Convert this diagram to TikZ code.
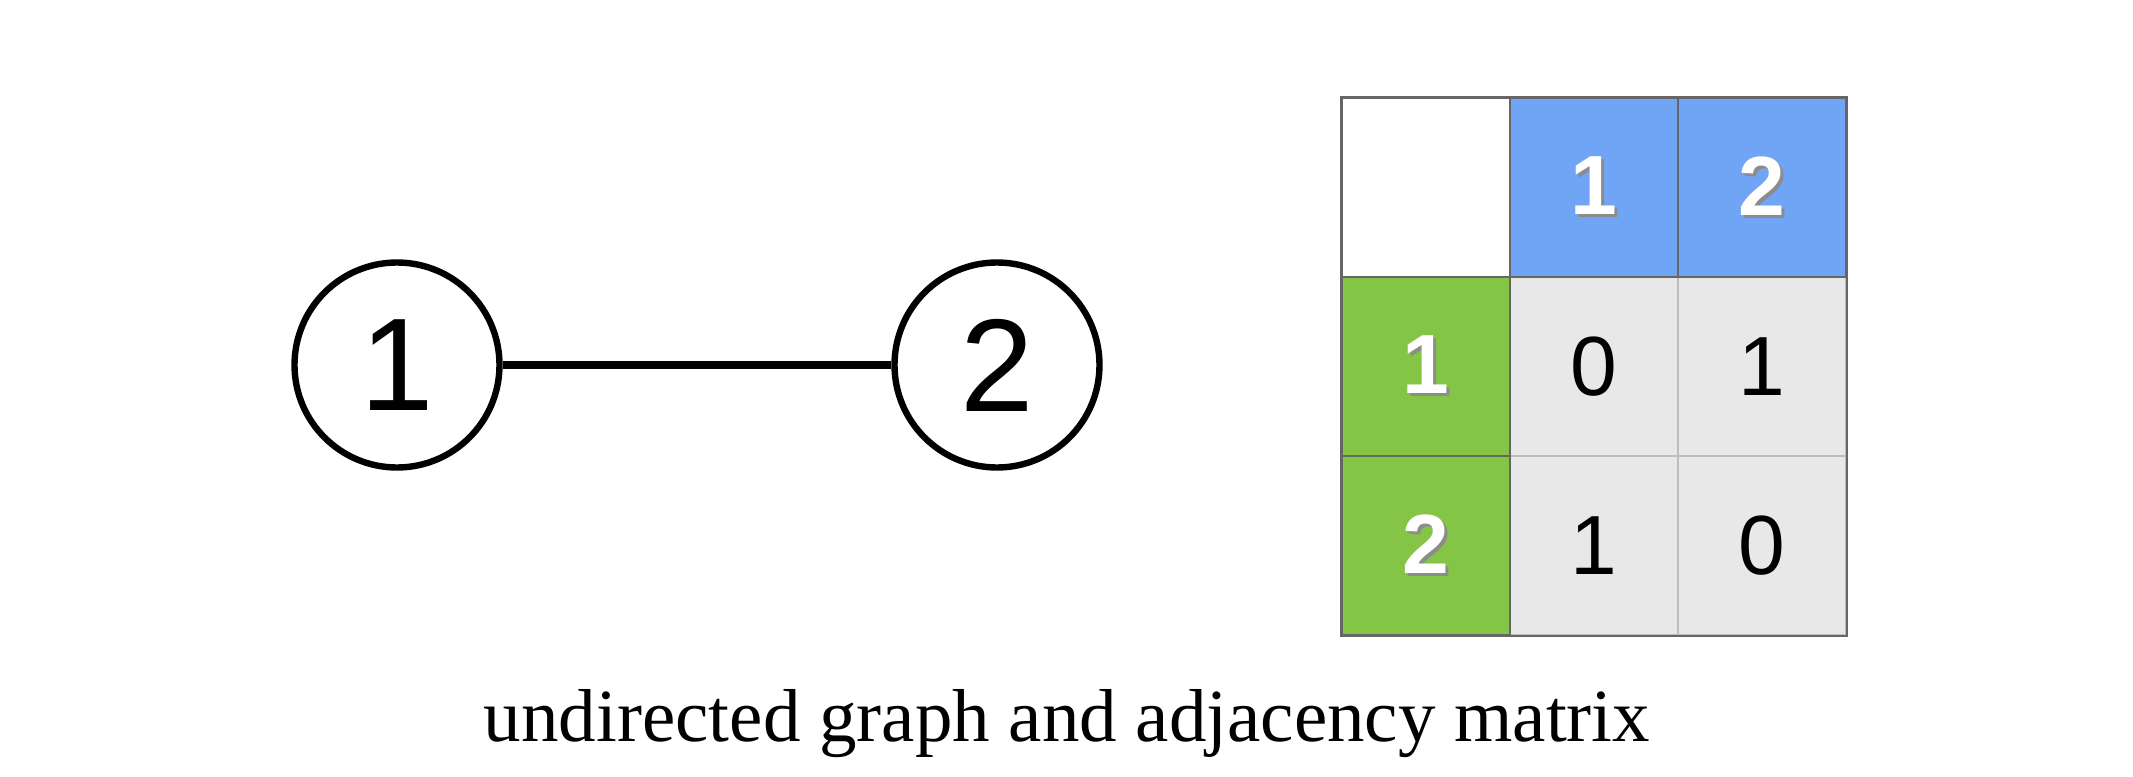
\documentclass[tikz,border=0pt]{standalone}
\usepackage{fontspec}
\setmainfont{Liberation Serif}
\newfontfamily\digitfont{Liberation Sans}
\usetikzlibrary{arrows}

\definecolor{headblue}{HTML}{70A5F5}
\definecolor{rowgreen}{HTML}{85C545}
\definecolor{cellgray}{HTML}{E8E8E8}
\definecolor{gridline}{HTML}{666666}
\definecolor{softline}{HTML}{BDBDBD}
\newcommand{\shadowdigit}[1]{\rlap{\kern1.5pt\raisebox{-1.5pt}{\color{black!45}#1}}{\color{white}#1}}

\begin{document}
\begin{tikzpicture}[x=0.5pt,y=-0.5pt,node distance=300pt,
                    main node/.style={circle,draw,line width=3.2pt,minimum size=102.5pt,
                      inner sep=0pt,font=\digitfont\fontsize{66}{66}\selectfont},
                    cell/.style={rectangle,minimum width=84pt,minimum height=89.5pt,
                      inner sep=0pt,line width=1pt},
                    head cell/.style={cell,draw=gridline,fill=headblue,
                      font=\digitfont\bfseries\fontsize{42}{42}\selectfont},
                    row cell/.style={cell,draw=gridline,fill=rowgreen,
                      font=\digitfont\bfseries\fontsize{42}{42}\selectfont},
                    value cell/.style={cell,draw=softline,fill=cellgray,
                      font=\digitfont\fontsize{42}{42}\selectfont}]
  \useasboundingbox (0,0) rectangle (2133,777);
  \node[main node] (1) at (397,365) {1};
  \node[main node] (2) [right of=1] {2};
  \path 
    (1) edge[line width=4.3pt] (2)
    ;
  % adjacency matrix
  \node[value cell] (v11) at (1593.5,366.5) {0};
  \node[value cell] (v12) [right of=v11,node distance=84pt] {1};
  \node[value cell] (v21) [below of=v11,node distance=89.5pt] {1};
  \node[value cell] (v22) [right of=v21,node distance=84pt] {0};
  \node[head cell] (h1) [above of=v11,node distance=89.5pt] {\shadowdigit{1}};
  \node[head cell] (h2) [above of=v12,node distance=89.5pt] {\shadowdigit{2}};
  \node[row cell] (r1) [left of=v11,node distance=84pt] {\shadowdigit{1}};
  \node[row cell] (r2) [left of=v21,node distance=84pt] {\shadowdigit{2}};
  \node[cell,draw=gridline,fill=white] (corner) [left of=h1,node distance=84pt] {};
  \draw[line width=1pt,gridline] (corner.north west) rectangle (v22.south east);
  \node[anchor=base,font=\fontsize{37.5}{37.5}\selectfont] (caption) at (1067,741)
    {undirected graph and adjacency matrix};
\end{tikzpicture}
\end{document}
